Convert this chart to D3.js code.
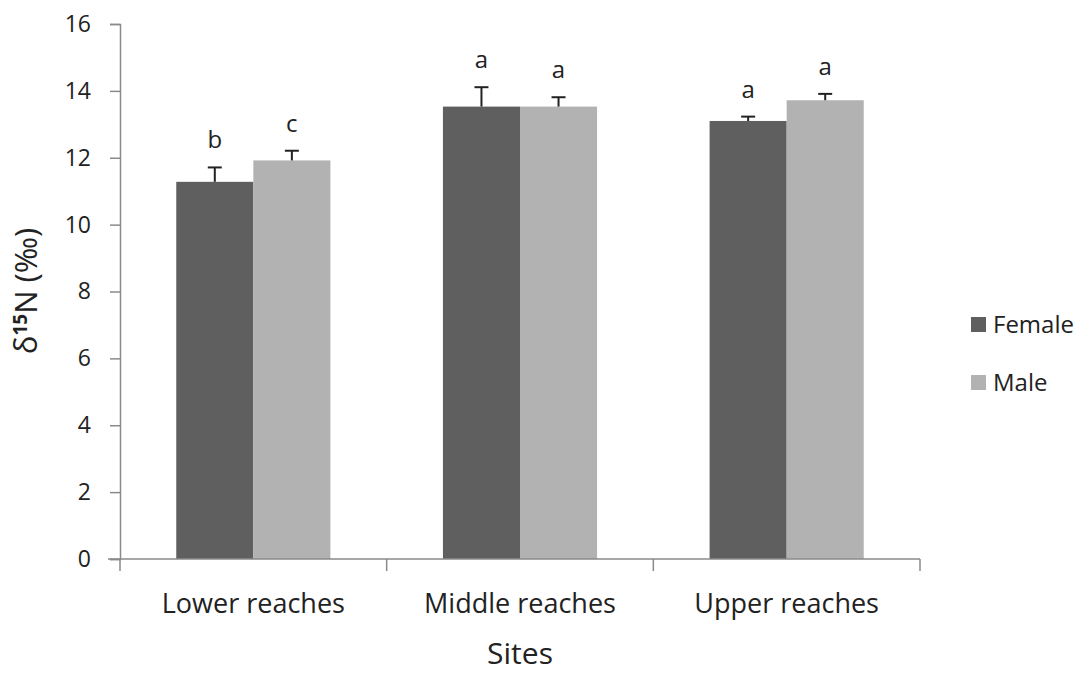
<!DOCTYPE html>
<html>
<head>
<meta charset="utf-8">
<script src="https://cdn.jsdelivr.net/npm/d3@7"></script>
<style>
  body { margin: 0; background: #fff; }
  svg text { font-family: "Open Sans", "Liberation Sans", sans-serif; fill: #222; }
</style>
</head>
<body>
<svg id="chart" width="1083" height="675"></svg>
<script>
// Mean δ15N by site and sex, with SE and significance letters
const sites = ["Lower reaches", "Middle reaches", "Upper reaches"];
const groups = ["Female", "Male"];
const femaleMean = [11.28, 13.53, 13.10];
const maleMean = [11.92, 13.53, 13.72];
const femaleErr = [0.43, 0.58, 0.13];
const maleErr = [0.29, 0.28, 0.19];
const femaleLetters = ["b", "a", "a"];
const maleLetters = ["c", "a", "a"];
const yTicks = [0, 2, 4, 6, 8, 10, 12, 14, 16];
const colors = { Female: "#5f5f5f", Male: "#b2b2b2" };

const rows = [];
sites.forEach((s, i) => {
  rows.push({ site: s, group: "Female", value: femaleMean[i], err: femaleErr[i], letter: femaleLetters[i] });
  rows.push({ site: s, group: "Male", value: maleMean[i], err: maleErr[i], letter: maleLetters[i] });
});

const svg = d3.select("#chart");
const plot = { left: 120, right: 920, top: 24, bottom: 559 };

const x = d3.scaleBand().domain(sites).range([plot.left, plot.right]).paddingInner(0).paddingOuter(0);
const x1 = d3.scaleBand().domain(groups).range([0, x.bandwidth()]).paddingInner(0).paddingOuter(0.73);
const y = d3.scaleLinear().domain([0, 16]).range([plot.bottom, plot.top]);

const axisColor = "#8a8a8a";

// Bars
svg.append("g").selectAll("rect").data(rows).join("rect")
  .attr("x", d => x(d.site) + x1(d.group))
  .attr("y", d => y(d.value))
  .attr("width", x1.bandwidth())
  .attr("height", d => y(0) - y(d.value))
  .attr("fill", d => colors[d.group]);

// Error bars (upper half only)
const eb = svg.append("g").attr("stroke", "#222").attr("stroke-width", 2);
rows.forEach(d => {
  const cx = x(d.site) + x1(d.group) + x1.bandwidth() / 2;
  eb.append("line").attr("x1", cx).attr("x2", cx).attr("y1", y(d.value)).attr("y2", y(d.value + d.err));
  eb.append("line").attr("x1", cx - 7).attr("x2", cx + 7).attr("y1", y(d.value + d.err)).attr("y2", y(d.value + d.err));
});

// Significance letters
svg.append("g").selectAll("text").data(rows).join("text")
  .attr("x", d => x(d.site) + x1(d.group) + x1.bandwidth() / 2)
  .attr("y", d => y(d.value + d.err) - 19)
  .attr("text-anchor", "middle")
  .style("font-size", "24px")
  .text(d => d.letter);

// Y axis
const yAxis = d3.axisLeft(y).tickValues(yTicks).tickSize(10).tickPadding(19);
const gy = svg.append("g").attr("transform", `translate(${plot.left},0)`).call(yAxis);
gy.select(".domain").attr("stroke", axisColor).attr("stroke-width", 1.5);
gy.selectAll(".tick line").attr("stroke", axisColor).attr("stroke-width", 1.5);
gy.selectAll(".tick text").style("font-size", "23px").attr("fill", "#222");

// X axis with category boundary ticks
const gx = svg.append("g").attr("transform", `translate(0,${plot.bottom})`);
gx.append("line").attr("x1", plot.left - 12).attr("x2", plot.right).attr("y1", 0).attr("y2", 0)
  .attr("stroke", axisColor).attr("stroke-width", 1.5);
const bounds = sites.map(s => x(s)).concat([x(sites[sites.length - 1]) + x.bandwidth()]);
gx.selectAll("line.b").data(bounds).join("line").attr("class", "b")
  .attr("x1", d => d).attr("x2", d => d).attr("y1", 0).attr("y2", 12)
  .attr("stroke", axisColor).attr("stroke-width", 1.5);
gx.selectAll("text").data(sites).join("text")
  .attr("x", d => x(d) + x.bandwidth() / 2)
  .attr("y", 54)
  .attr("text-anchor", "middle")
  .style("font-size", "27px")
  .text(d => d);

// Axis titles
svg.append("text").attr("x", (plot.left + plot.right) / 2).attr("y", 664)
  .attr("text-anchor", "middle").style("font-size", "30px").text("Sites");

const yt = svg.append("text")
  .attr("transform", `translate(37,291) rotate(-90)`)
  .attr("text-anchor", "middle").style("font-size", "31px");
yt.append("tspan").text("δ");
yt.append("tspan").attr("dy", -10).style("font-size", "19px").style("font-weight", "bold").text("15");
yt.append("tspan").attr("dy", 10).text("N (‰)");

// Legend
const lg = svg.append("g").attr("transform", "translate(971,317)");
groups.forEach((g, i) => {
  const row = lg.append("g").attr("transform", `translate(0,${i * 58})`);
  row.append("rect").attr("width", 15).attr("height", 15).attr("fill", colors[g]);
  row.append("text").attr("x", 22).attr("y", 16).style("font-size", "24px").text(g);
});
</script>
</body>
</html>
